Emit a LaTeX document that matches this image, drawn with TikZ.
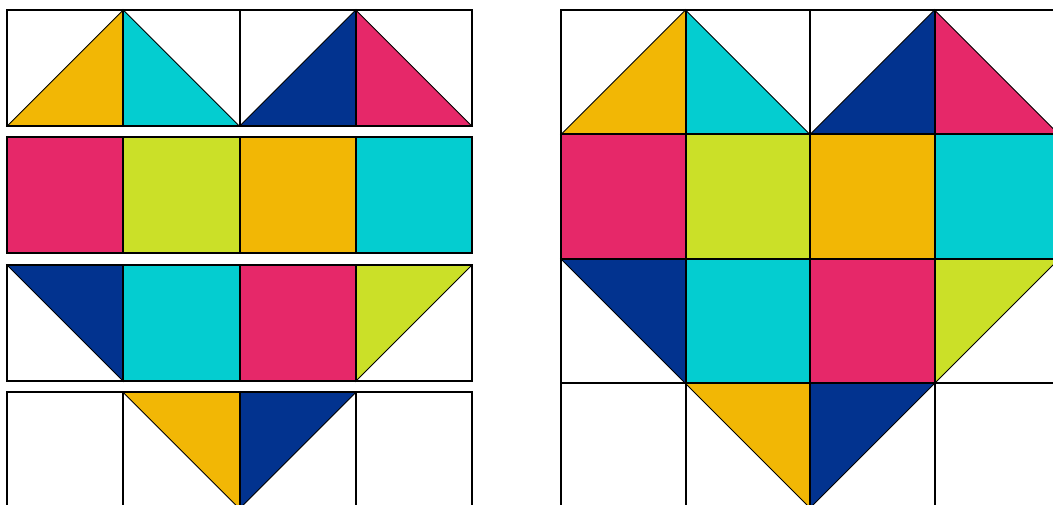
\documentclass[tikz,border=0pt]{standalone}
\definecolor{qyel}{RGB}{242,183,5}
\definecolor{qcya}{RGB}{4,205,208}
\definecolor{qnav}{RGB}{2,51,143}
\definecolor{qpin}{RGB}{230,40,105}
\definecolor{qlim}{RGB}{203,224,40}
\tikzset{
  frame/.style={draw=black, line width=1.5pt},
  tripiece/.style={draw=black, line width=0.7pt, line join=miter},
}
% #1 x, #2 y, #3 size, #4 type (0 full, 1 omit TL, 2 omit TR, 3 omit BL, 4 omit BR), #5 colour
\newcommand\qcell[5]{%
  \ifcase#4
    \fill[#5] (#1,#2) rectangle ++(#3,#3);
  \or
    \filldraw[fill=#5, tripiece] (#1+#3,#2) -- (#1+#3,#2+#3) -- (#1,#2+#3) -- cycle;
  \or
    \filldraw[fill=#5, tripiece] (#1,#2) -- (#1,#2+#3) -- (#1+#3,#2+#3) -- cycle;
  \or
    \filldraw[fill=#5, tripiece] (#1,#2) -- (#1+#3,#2) -- (#1+#3,#2+#3) -- cycle;
  \or
    \filldraw[fill=#5, tripiece] (#1,#2) -- (#1+#3,#2) -- (#1,#2+#3) -- cycle;
  \fi}
\begin{document}
\begin{tikzpicture}[x=0.75pt,y=-0.75pt]
\useasboundingbox (0,0) rectangle (1053,505);
\clip (0,0) rectangle (1053,505);
\fill[white] (0,0) rectangle (1053,505);
% cells
\foreach \r/\c/\t/\col in {
  0/0/1/qyel, 0/1/2/qcya, 0/2/1/qnav, 0/3/2/qpin,
  1/0/0/qpin, 1/1/0/qlim, 1/2/0/qyel, 1/3/0/qcya,
  2/0/3/qnav, 2/1/0/qcya, 2/2/0/qpin, 2/3/4/qlim,
  3/1/3/qyel, 3/2/4/qnav}{
  \pgfmathsetmacro\lx{7+\c*116.25}
  \pgfmathsetmacro\ly{10+\r*127.5}
  \pgfmathsetmacro\rx{561+\c*124.5}
  \pgfmathsetmacro\ry{10+\r*124.5}
  \qcell{\lx}{\ly}{116.25}{\t}{\col}
  \qcell{\rx}{\ry}{124.5}{\t}{\col}
}
% left panel frames
\foreach \r in {0,1,2,3}{
  \pgfmathsetmacro\ly{10+\r*127.5}
  \draw[frame] (7,\ly) rectangle ++(465,116);
  \foreach \c in {1,2,3}{
    \pgfmathsetmacro\lx{7+\c*116.25}
    \draw[frame] (\lx,\ly) -- ++(0,116);
  }
}
% right panel grid
\draw[frame] (561,10) rectangle (1059,508);
\foreach \i in {1,2,3}{
  \pgfmathsetmacro\gx{561+\i*124.5}
  \pgfmathsetmacro\gy{10+\i*124.5}
  \draw[frame] (\gx,10) -- (\gx,508);
  \draw[frame] (561,\gy) -- (1059,\gy);
}
\end{tikzpicture}
\end{document}
